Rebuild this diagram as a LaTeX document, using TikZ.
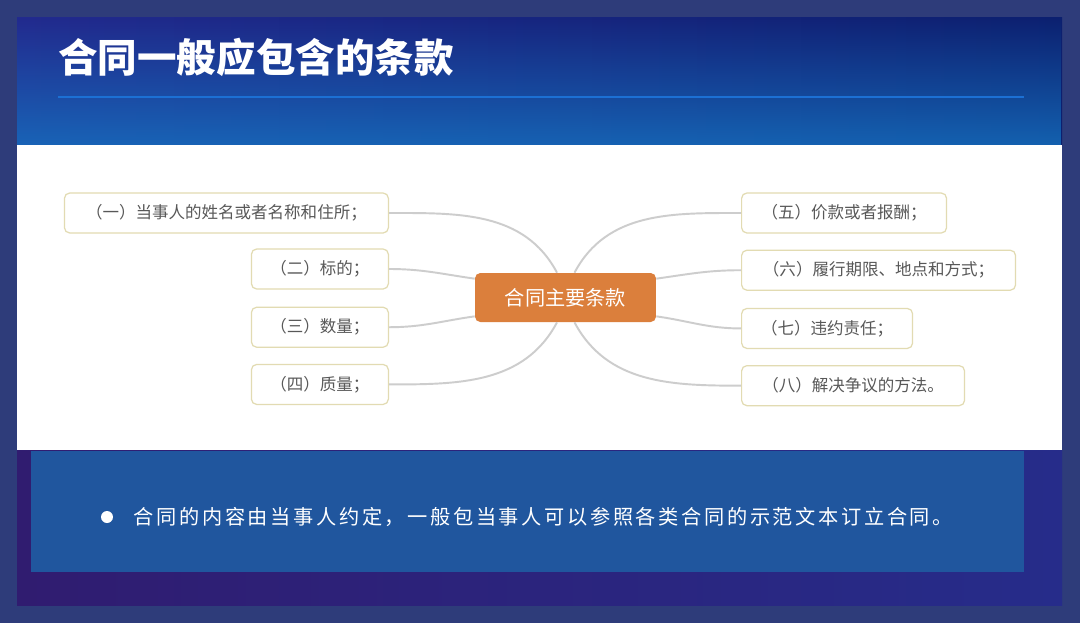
\documentclass[tikz,border=0pt]{standalone}
\usepackage{fontspec}
\setmainfont{Noto Sans CJK SC}
\newfontfamily\cjkspaced[LetterSpace=13]{Noto Sans CJK SC}
\usetikzlibrary{positioning, fadings}

\definecolor{outerbg}{RGB}{46,60,122}
\definecolor{hdrLeft}{RGB}{34,42,142}
\definecolor{hdrMid}{RGB}{28,78,165}
\definecolor{hdrRight}{RGB}{12,32,112}
\definecolor{hdrGlow}{RGB}{22,118,196}
\definecolor{ruleblue}{RGB}{28,112,212}
\definecolor{footLeft}{RGB}{48,28,112}
\definecolor{footMid}{RGB}{62,80,168}
\definecolor{footRight}{RGB}{38,44,138}
\definecolor{footbox}{RGB}{32,86,158}
\definecolor{itemborder}{RGB}{226,219,178}
\definecolor{itemtext}{RGB}{88,88,88}
\definecolor{hubfill}{RGB}{219,127,60}
\definecolor{branchgray}{RGB}{205,205,205}

\begin{document}
\begin{tikzpicture}[
    x=0.02cm, y=0.02cm,
    title/.style={anchor=west, inner sep=0pt, text=white, font=\fontsize{22.5}{26}\selectfont\bfseries},
    item/.style={rectangle, draw=itemborder, fill=white, line width=0.7pt, rounded corners=3pt, align=center, minimum height=0.8cm, inner sep=0pt, text=itemtext, font=\fontsize{9.4}{11}\selectfont},
    hub/.style={rectangle, fill=hubfill, rounded corners=3pt, align=center, minimum width=3.62cm, minimum height=0.98cm, text=white, font=\fontsize{11.5}{14}\selectfont},
    branch/.style={draw=branchgray, line width=1.1pt}
]

% Background and panels
\fill[outerbg] (0,0) rectangle (1080,-623);
\shade[left color=hdrLeft, middle color=hdrMid, right color=hdrRight] (17,-17) rectangle (1062,-145);
\fill[hdrGlow, path fading=north, fill opacity=0.75] (17,-17) rectangle (1062,-145);
\draw[ruleblue, line width=1.2pt] (58,-97) -- (1024,-97);
\fill[white] (17,-145) rectangle (1062,-450);
\shade[left color=footLeft, middle color=footMid, right color=footRight] (17,-450) rectangle (1062,-605);
\fill[footbox] (31,-451) rectangle (1024,-572);

% Title
\node[title] (title) at (58,-57) {合同一般应包含的条款};

% Nodes
\node[hub] (hub) at (565.5,-297.5) {合同主要条款};

\node[item, anchor=east, minimum width=6.48cm] (party) at (389,-213) {（一）当事人的姓名或者名称和住所；};
\node[item, anchor=east, minimum width=2.74cm] (subject) at (389,-269) {（二）标的；};
\node[item, minimum width=2.74cm, below=0.34cm of subject] (quantity) {（三）数量；};
\node[item, minimum width=2.74cm, below=0.32cm of quantity] (quality) {（四）质量；};

\node[item, anchor=west, minimum width=4.1cm] (price) at (741,-213) {（五）价款或者报酬；};
\node[item, minimum width=5.48cm, below=0.32cm of price.south west, anchor=north west] (perform) {（六）履行期限、地点和方式；};
\node[item, minimum width=3.42cm, below=0.34cm of perform.south west, anchor=north west] (breach) {（七）违约责任；};
\node[item, minimum width=4.46cm, below=0.32cm of breach.south west, anchor=north west] (dispute) {（八）解决争议的方法。};

% Arrows
\draw[branch] (party.east) to[out=0, in=118] ([xshift=-0.17cm]hub.north);
\draw[branch] (subject.east) to[out=0, in=172] ([yshift=-0.12cm]hub.north west);
\draw[branch] (quantity.east) to[out=0, in=188] ([yshift=0.12cm]hub.south west);
\draw[branch] (quality.east) to[out=0, in=-118] ([xshift=-0.17cm]hub.south);
\draw[branch] (price.west) to[out=180, in=62] ([xshift=0.18cm]hub.north);
\draw[branch] (perform.west) to[out=180, in=8] ([yshift=-0.12cm]hub.north east);
\draw[branch] (breach.west) to[out=180, in=-8] ([yshift=0.12cm]hub.south east);
\draw[branch] (dispute.west) to[out=180, in=-62] ([xshift=0.18cm]hub.south);

% Note
\node[circle, fill=white, inner sep=0pt, minimum size=0.24cm] (dot) at (107,-517) {};
\node[right=0.4cm of dot, inner sep=0pt, text=white, font=\cjkspaced\fontsize{11.5}{13}\selectfont] (note) {合同的内容由当事人约定，一般包当事人可以参照各类合同的示范文本订立合同。};

\end{tikzpicture}
\end{document}
